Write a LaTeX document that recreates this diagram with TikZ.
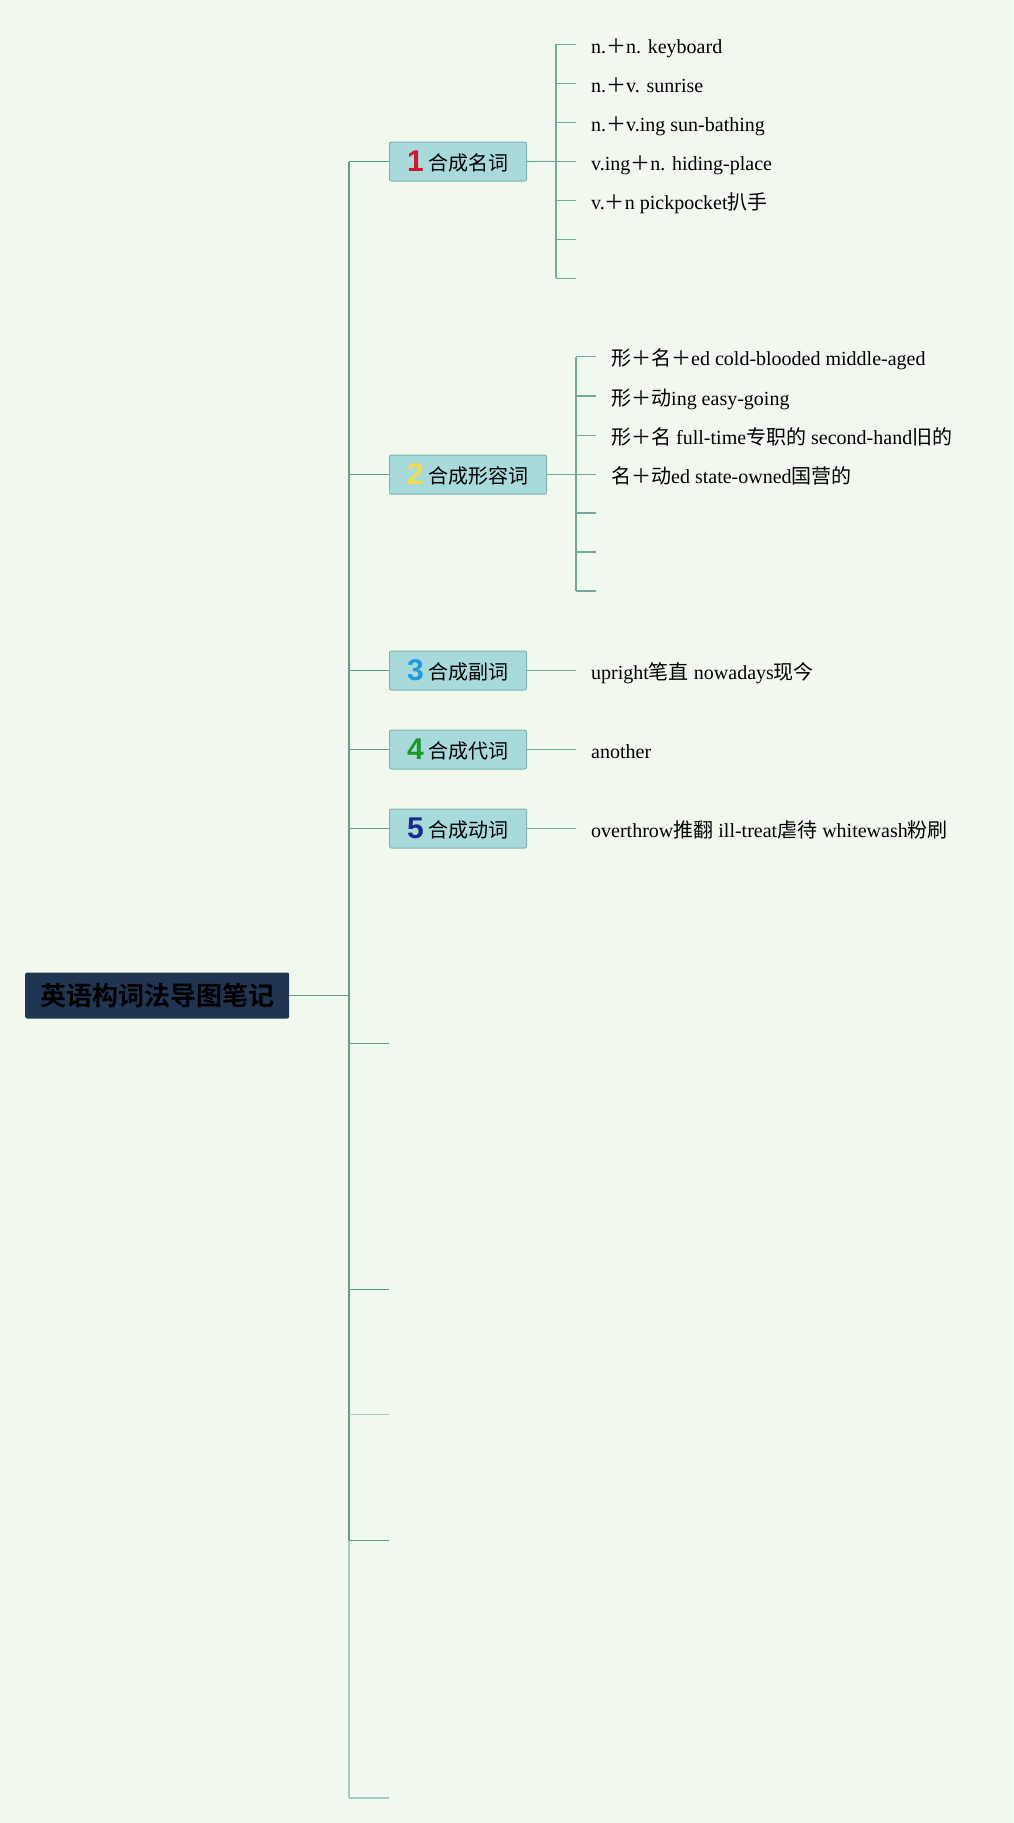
\documentclass[tikz,border=0pt]{standalone}
\usepackage{fontspec}
\setmainfont{Liberation Serif}
\newfontfamily\cjk{Noto Sans CJK SC}
\newfontfamily\cjkb{Noto Sans CJK SC Bold}
\newfontfamily\numf{Liberation Sans}
\definecolor{bg}{HTML}{F1F9EF}
\definecolor{linedark}{HTML}{5F9E8A}
\definecolor{linemid}{HTML}{72AA9A}
\definecolor{linelight}{HTML}{A5CBBC}
\definecolor{boxfill}{HTML}{A8DADB}
\definecolor{boxdraw}{HTML}{7DB5AC}
\definecolor{rootfill}{HTML}{1F3552}
\definecolor{nred}{HTML}{D3132F}
\definecolor{nyellow}{HTML}{F2DB4C}
\definecolor{nblue}{HTML}{1F9BE0}
\definecolor{ngreen}{HTML}{1A9A22}
\definecolor{nnavy}{HTML}{1A2B85}
\newcommand{\C}[1]{{\cjk #1}}
\newcommand{\numb}[2]{\raisebox{-1.5pt}{\numf\bfseries\fontsize{30}{30}\selectfont\color{#1}#2}}
\begin{document}
\begin{tikzpicture}[x=1pt,y=-1pt,
  trunk/.style={draw=linedark,line width=1.6pt},
  trunklight/.style={draw=linelight,line width=1.6pt},
  stub/.style={draw=linedark,line width=1pt},
  stublight/.style={draw=linelight,line width=1.3pt},
  sub/.style={draw=linemid,line width=1.1pt},
  catbox/.style={draw=boxdraw,line width=1pt,fill=boxfill,rounded corners=2pt,anchor=west,
    minimum height=39pt,inner sep=0pt,font=\cjk\fontsize{20}{20}\selectfont},
  rootbox/.style={fill=rootfill,rounded corners=2pt,anchor=west,minimum width=264pt,
    minimum height=46pt,inner sep=0pt,font=\cjkb\fontsize{26}{26}\selectfont,text=black},
  leaf/.style={anchor=base west,inner sep=0pt,font=\fontsize{20}{20}\selectfont}
]
\useasboundingbox[fill=bg] (0,0) rectangle (1013,1823);

% root
\node[rootbox] (root) at (25,995.5) {英语构词法导图笔记};

% categories
\node[catbox,minimum width=137pt] (c1) at (389,161.5) {\numb{nred}{1}\hspace{5pt}合成名词};
\node[catbox,minimum width=157pt] (c2) at (389,474.5) {\numb{nyellow}{2}\hspace{5pt}合成形容词};
\node[catbox,minimum width=137pt] (c3) at (389,670.5) {\numb{nblue}{3}\hspace{5pt}合成副词};
\node[catbox,minimum width=137pt] (c4) at (389,749.5) {\numb{ngreen}{4}\hspace{5pt}合成代词};
\node[catbox,minimum width=137pt] (c5) at (389,828.5) {\numb{nnavy}{5}\hspace{5pt}合成动词};

% trunk coordinates
\coordinate (tj) at (349,995.5);
\coordinate (t1) at (349,161.5);
\coordinate (t2) at (349,474.5);
\coordinate (t3) at (349,670.5);
\coordinate (t4) at (349,749.5);
\coordinate (t5) at (349,828.5);
\coordinate (t6) at (349,1043.7);
\coordinate (t7) at (349,1289.4);
\coordinate (t8) at (349,1414.8);
\coordinate (t9) at (349,1540.4);
\coordinate (t10) at (349,1797.9);
\coordinate (e6) at (389,1043.7);
\coordinate (e7) at (389,1289.4);
\coordinate (e8) at (389,1414.8);
\coordinate (e9) at (389,1540.4);
\coordinate (e10) at (389,1797.9);

\draw[stub] (root.east) -- (tj);
\draw[trunk] (t1) -- (t9);
\draw[trunklight] (t9) -- (t10);
\draw[stub] (t1) -- (c1.west);
\draw[stub] (t2) -- (c2.west);
\draw[stub] (t3) -- (c3.west);
\draw[stub] (t4) -- (c4.west);
\draw[stub] (t5) -- (c5.west);
\draw[stub] (t6) -- (e6);
\draw[stub] (t7) -- (e7);
\draw[stublight] (t8) -- (e8);
\draw[stub] (t9) -- (e9);
\draw[stublight] (t10) -- (e10);

% category 1 leaves
\foreach \i/\y in {1/44.3,2/83.3,3/122.3,4/161.3,5/200.3,6/239.3,7/278.3}{
  \coordinate (a\i) at (556,\y);
  \coordinate (ae\i) at (576,\y);
  \draw[sub] (a\i) -- (ae\i);
}
\draw[sub] (c1.east) -- (a4);
\draw[sub] (a1) -- (a7);
\node[leaf] (l11) at (591,53.3) {n.\C{＋}n. keyboard};
\node[leaf] (l12) at (591,92.3) {n.\C{＋}v. sunrise};
\node[leaf] (l13) at (591,131.3) {n.\C{＋}v.ing sun-bathing};
\node[leaf] (l14) at (591,170.3) {v.ing\C{＋}n. hiding-place};
\node[leaf] (l15) at (591,209.3) {v.\C{＋}n pickpocket\C{扒手}};

% category 2 leaves
\foreach \i/\y in {1/356.7,2/396,3/435.3,4/474.5,5/513,6/552,7/591}{
  \coordinate (b\i) at (576,\y);
  \coordinate (be\i) at (596,\y);
  \draw[sub] (b\i) -- (be\i);
}
\draw[sub] (c2.east) -- (b4);
\draw[sub] (b1) -- (b7);
\node[leaf] (l21) at (611,365.7) {\C{形＋名＋}ed cold-blooded middle-aged};
\node[leaf] (l22) at (611,405) {\C{形＋动}ing easy-going};
\node[leaf] (l23) at (611,444.3) {\C{形＋名} full-time\C{专职的} second-hand\C{旧的}};
\node[leaf] (l24) at (611,483.5) {\C{名＋动}ed state-owned\C{国营的}};

% categories 3-5 leaves
\node[leaf] (l31) at (591,679.5) {upright\C{笔直} nowadays\C{现今}};
\node[leaf] (l41) at (591,758.5) {another};
\node[leaf] (l51) at (591,837.5) {overthrow\C{推翻} ill-treat\C{虐待} whitewash\C{粉刷}};
\draw[sub] (c3.east) -- (576,670.5);
\draw[sub] (c4.east) -- (576,749.5);
\draw[sub] (c5.east) -- (576,828.5);
\end{tikzpicture}
\end{document}
